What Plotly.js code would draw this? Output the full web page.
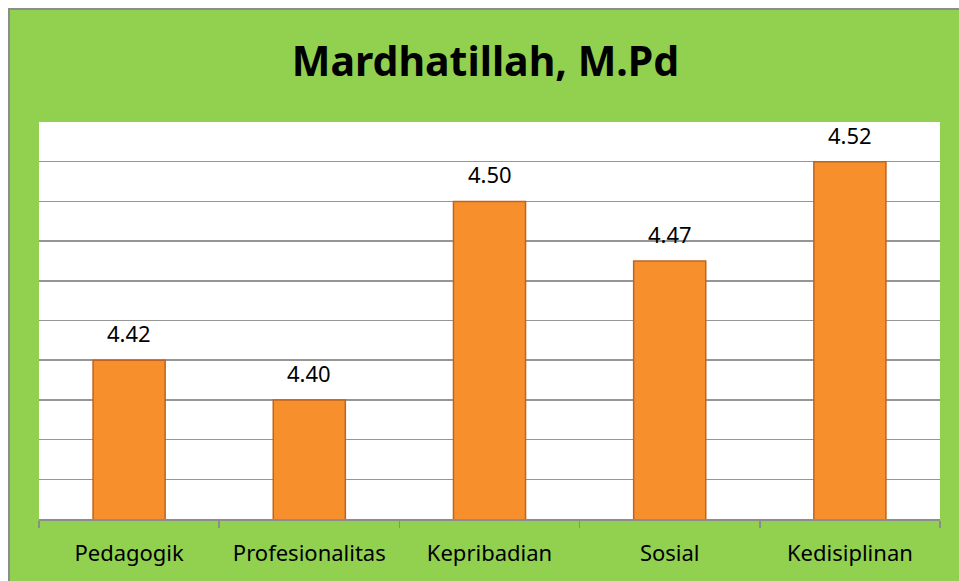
<!DOCTYPE html>
<html>
<head>
<meta charset="utf-8">
<script src="https://cdn.plot.ly/plotly-3.0.1.min.js"></script>
<style>
  html, body { margin: 0; padding: 0; background: #ffffff; overflow: hidden; }
  #chart {
    position: absolute; left: 8px; top: 8px;
    width: 951px; height: 573px;
    border-top: 2px solid #8c8c8c; border-left: 2px solid #8c8c8c;
  }
</style>
</head>
<body>
<div id="chart"></div>
<script>
const categories = ["Pedagogik", "Profesionalitas", "Kepribadian", "Sosial", "Kedisiplinan"];
const values = [4.42, 4.40, 4.50, 4.47, 4.52];
const valueLabels = ["4.42", "4.40", "4.50", "4.47", "4.52"];
const chartTitle = "Mardhatillah, M.Pd";

const trace = {
  type: "bar",
  x: categories,
  y: values,
  width: 0.4,
  marker: { color: "#F7902C", line: { color: "#BE6420", width: 1.5 } },
  hoverinfo: "x+y"
};

const annotations = categories.map((c, i) => ({
  x: c, y: values[i], text: valueLabels[i],
  xref: "x", yref: "y", showarrow: false,
  yanchor: "bottom", yshift: 10,
  font: { family: "Noto Sans, sans-serif", size: 22, color: "#000000" }
}));

const layout = {
  width: 951, height: 573,
  paper_bgcolor: "#92D050",
  plot_bgcolor: "#ffffff",
  margin: { l: 29, r: 21, t: 112, b: 64 },
  title: {
    text: "<b>" + chartTitle + "</b>",
    x: 0.5, xanchor: "center", y: 1, yref: "paper", yanchor: "bottom", pad: { b: 46 },
    font: { family: "Noto Sans, sans-serif", size: 41, color: "#000000" }
  },
  xaxis: {
    type: "category",
    showline: true, linecolor: "#8c8c8c", linewidth: 1.5,
    ticks: "outside", tickson: "boundaries", ticklen: 7, tickcolor: "#8c8c8c", tickwidth: 1.5,
    ticklabelstandoff: 14,
    showgrid: false,
    tickfont: { family: "Noto Sans, sans-serif", size: 22, color: "#000000" },
    automargin: false
  },
  yaxis: {
    range: [4.34, 4.54], dtick: 0.02, tick0: 4.34,
    showticklabels: false, ticks: "",
    showgrid: true, gridcolor: "#969696", gridwidth: 1.5,
    zeroline: false, showline: false, fixedrange: true
  },
  annotations: annotations,
  showlegend: false
};

Plotly.newPlot("chart", [trace], layout, { displayModeBar: false, staticPlot: true });
</script>
</body>
</html>
